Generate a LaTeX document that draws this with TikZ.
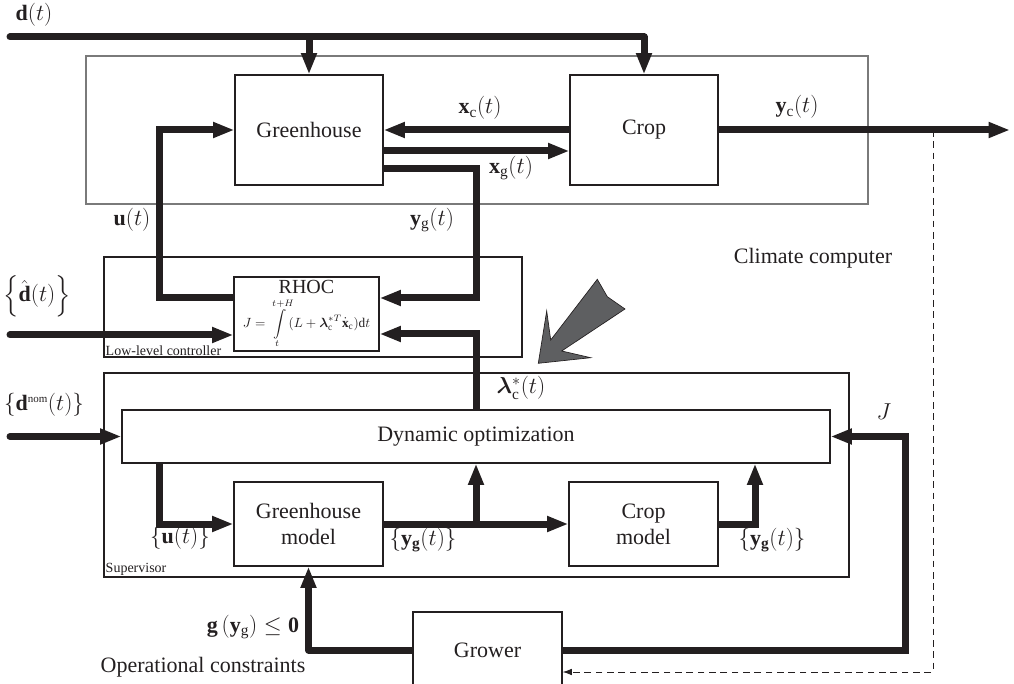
\documentclass[tikz,border=0pt]{standalone}
\usepackage{amsmath}
\usepackage{fontspec}
\setmainfont{Liberation Serif}
\usepackage{bm}
\usetikzlibrary{arrows.meta,calc}
\definecolor{ink}{HTML}{231F20}
\definecolor{arrowgray}{HTML}{5E5F61}
\definecolor{framegray}{HTML}{7A7A7A}
\begin{document}
\begin{tikzpicture}[x=0.75pt,y=-0.75pt,
  font=\fontsize{16.5}{19.5}\selectfont, text=ink,
  box/.style={draw=ink, line width=0.8pt, inner sep=0pt, align=center},
  frame/.style={draw=#1, line width=0.8pt, inner sep=0pt},
  flow/.style={draw=ink, line width=5.25pt, -{Triangle[length=16pt,width=11pt]}},
  dashflow/.style={draw=ink, line width=0.75pt, dash pattern=on 5pt off 3.5pt, -{Latex[length=7pt,width=5pt]}},
  small/.style={font=\fontsize{10.5}{12}\selectfont, inner sep=1.5pt},
  lbl/.style={inner sep=0pt}]
\useasboundingbox (0,0) rectangle (1014,684);

% frames
\node[frame=framegray, minimum width=586.5pt, minimum height=111pt] (cc) at (477,130) {};
\node[frame=ink, minimum width=313.5pt, minimum height=75pt] (llc) at (313,307) {};
\node[frame=ink, minimum width=558.75pt, minimum height=153pt] (sup) at (476.5,475) {};

% blocks
\node[box, minimum width=111pt, minimum height=82.5pt] (gh) at (309,130) {Greenhouse};
\node[box, minimum width=111pt, minimum height=82.5pt] (crop) at (644,130) {Crop};
\node[box, minimum width=108.75pt, minimum height=55.5pt] (rhoc) at (306.5,314)
  {{\fontsize{15}{17}\selectfont RHOC}\\[3pt]{\fontsize{10}{12}\selectfont$\displaystyle J=\int\limits_{t}^{t+H}\!(L+\bm{\lambda}_{\mathrm{c}}^{*T}\dot{\mathbf{x}}_{\mathrm{c}})\mathrm{d}t$}};
\node[box, minimum width=531pt, minimum height=39.75pt] (dyn) at (476,436.5) {Dynamic optimization};
\node[box, minimum width=111.75pt, minimum height=63pt] (ghm) at (308.5,524) {Greenhouse\\model};
\node[box, minimum width=111.75pt, minimum height=63pt] (cropm) at (643.5,524) {Crop\\model};
\node[box, minimum width=111.75pt, minimum height=57pt] (grower) at (487.5,650) {Grower};

% frame captions
\node[small, anchor=south west] (llclbl) at (llc.south west) {Low-level controller};
\node[small, anchor=south west] (suplbl) at (sup.south west) {Supervisor};
\node[lbl] (lcc) at (813,258) {Climate computer};

% disturbances
\coordinate (dL) at (10,37);
\draw[flow, line cap=round, line join=round] (dL) -- (dL -| crop.north) -- (crop.north);
\draw[flow] (gh.north |- dL) -- (gh.north);

% climate computer internal flows
\draw[flow] (crop.west) -- (gh.east);
\draw[flow] ($(gh.east)+(0,21)$) -- ($(crop.west)+(0,21)$);
\coordinate (yend) at (1010,130);
\draw[flow] (crop.east) -- (yend);

% u(t) and y_g(t)
\coordinate (u1) at (159,298);
\draw[flow] (u1 -| rhoc.west) -- (u1) -- (u1 |- gh.west) -- (gh.west);
\coordinate (g1) at (476,169);
\coordinate (g2) at (476,298);
\draw[flow] (g1 -| gh.east) -- (g1) -- (g2) -- (g2 -| rhoc.east);

% lambda
\coordinate (l1) at (476,334);
\draw[flow] (dyn.north) -- (dyn.north |- l1) -- (l1 -| rhoc.east);

% d hat and d nom
\coordinate (dh) at (10,335);
\draw[flow, line cap=round] (dh) -- (dh -| rhoc.west);
\coordinate (dn) at (10,436.5);
\draw[flow, line cap=round] (dn) -- (dyn.west);

% supervisor internal
\coordinate (s1) at (159,463);
\draw[flow] (s1) -- (s1 |- ghm.west) -- (ghm.west);
\draw[flow] (ghm.east) -- (cropm.west);
\draw[flow] (ghm.east -| dyn.south) -- (dyn.south);
\coordinate (c1) at (755,524);
\draw[flow] (cropm.east) -- (c1) -- (c1 |- dyn.south);

% grower
\coordinate (j1) at (905,650);
\draw[flow] (grower.east) -- (j1) -- (j1 |- dyn.east) -- (dyn.east);
\draw[flow, line join=round] (grower.west) -- (grower.west -| ghm.south) -- (ghm.south);
\coordinate (k1) at (933,130);
\coordinate (k2) at (933,672);
\draw[dashflow] (k1) -- (k2) -- (k2 -| grower.east);

% big gray arrow
\draw[fill=arrowgray, draw=ink, line width=0.5pt] (538.3,363.3) -- (546.7,311) -- (550.7,340) -- (597.3,279.3) -- (607.3,296.7) -- (625,309) -- (561.7,351) -- (590.7,357.7) -- cycle;

% labels
\node[lbl] (ldt) at (34,15) {$\mathbf{d}(t)$};
\node[lbl] (ldh) at (37,296) {$\left\{\hat{\mathbf{d}}(t)\right\}$};
\node[lbl] (ldn) at (44,405) {$\left\{\mathbf{d}^{\scriptscriptstyle\mathrm{nom}}(t)\right\}$};
\node[lbl] (lu) at (132,220) {$\mathbf{u}(t)$};
\node[lbl] (lyg) at (432,220) {$\mathbf{y}_{\mathrm{g}}(t)$};
\node[lbl] (lxc) at (480,108) {$\mathbf{x}_{\mathrm{c}}(t)$};
\node[lbl] (lxg) at (511,168) {$\mathbf{x}_{\mathrm{g}}(t)$};
\node[lbl] (lyc) at (797,107) {$\mathbf{y}_{\mathrm{c}}(t)$};
\node[lbl] (llam) at (521,388) {$\bm{\lambda}_{\mathrm{c}}^{*}(t)$};
\node[lbl] (lJ) at (884,412) {$J$};
\node[lbl] (luu) at (180,538) {$\left\{\mathbf{u}(t)\right\}$};
\node[lbl] (lyg2) at (423,540) {$\left\{\mathbf{y}_{\mathbf{g}}(t)\right\}$};
\node[lbl] (lyg3) at (772,540) {$\left\{\mathbf{y}_{\mathbf{g}}(t)\right\}$};
\node[lbl] (lg) at (253,627) {$\mathbf{g}\left(\mathbf{y}_{\mathrm{g}}\right)\leq\mathbf{0}$};
\node[lbl] (lop) at (203,667) {Operational constraints};
\end{tikzpicture}
\end{document}
